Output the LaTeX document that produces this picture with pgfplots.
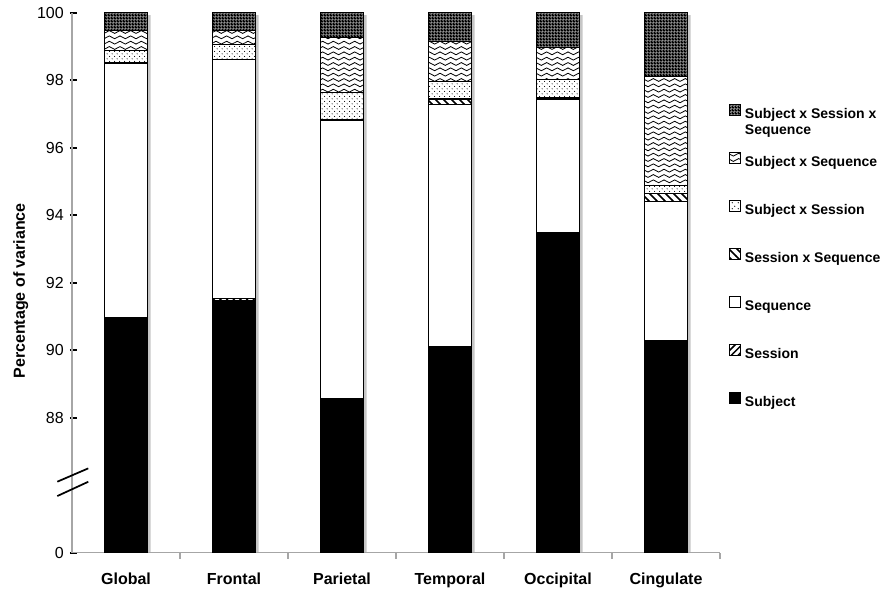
\documentclass[border=0pt]{standalone}
\usepackage{pgfplots}
\usepackage{pgfplotstable}
\pgfplotsset{compat=1.18}
\usepackage{fontspec}
\setmainfont{Liberation Sans}
\usetikzlibrary{patterns}

\pgfdeclarepatternformonly{waves}{\pgfqpoint{-0.5pt}{0pt}}{\pgfqpoint{8.5pt}{4pt}}{\pgfqpoint{8pt}{4pt}}{%
  \pgfsetlinewidth{0.6pt}%
  \pgfpathmoveto{\pgfqpoint{0pt}{2pt}}%
  \pgfpathcurveto{\pgfqpoint{1.33pt}{3.4pt}}{\pgfqpoint{2.67pt}{3.4pt}}{\pgfqpoint{4pt}{2pt}}%
  \pgfpathcurveto{\pgfqpoint{5.33pt}{0.6pt}}{\pgfqpoint{6.67pt}{0.6pt}}{\pgfqpoint{8pt}{2pt}}%
  \pgfusepath{stroke}}
\pgfdeclarepatternformonly{darkdots}{\pgfqpoint{0pt}{0pt}}{\pgfqpoint{2.4pt}{2.4pt}}{\pgfqpoint{2.4pt}{2.4pt}}{%
  \pgfseteorule
  \pgfpathrectangle{\pgfqpoint{0pt}{0pt}}{\pgfqpoint{2.4pt}{2.4pt}}%
  \pgfpathcircle{\pgfqpoint{1.2pt}{1.2pt}}{0.6pt}%
  \pgfusepath{fill}}
\pgfdeclarepatternformonly{sparsedots}{\pgfqpoint{0pt}{0pt}}{\pgfqpoint{4pt}{4pt}}{\pgfqpoint{4pt}{4pt}}{%
  \pgfpathcircle{\pgfqpoint{1pt}{1pt}}{0.45pt}%
  \pgfpathcircle{\pgfqpoint{3pt}{3pt}}{0.45pt}%
  \pgfusepath{fill}}
\pgfdeclarepatternformonly{nehatch}{\pgfqpoint{-1pt}{-1pt}}{\pgfqpoint{6pt}{6pt}}{\pgfqpoint{5pt}{5pt}}{%
  \pgfsetlinewidth{1.1pt}%
  \pgfpathmoveto{\pgfqpoint{-0.1pt}{-0.1pt}}%
  \pgfpathlineto{\pgfqpoint{5.1pt}{5.1pt}}%
  \pgfusepath{stroke}}
\pgfdeclarepatternformonly{nwhatch}{\pgfqpoint{-1pt}{-1pt}}{\pgfqpoint{7pt}{7pt}}{\pgfqpoint{6pt}{6pt}}{%
  \pgfsetlinewidth{1.2pt}%
  \pgfpathmoveto{\pgfqpoint{-0.1pt}{6.1pt}}%
  \pgfpathlineto{\pgfqpoint{6.1pt}{-0.1pt}}%
  \pgfusepath{stroke}}

\pgfplotstableread{
x   sub   ses  seq  sesseq subses subseq all
0.5 90.98 0.00 7.53 0.00   0.36   0.61   0.52
1.5 91.47 0.06 7.09 0.00   0.44   0.42   0.52
2.5 88.56 0.00 8.24 0.03   0.81   1.63   0.73
3.5 90.12 0.00 7.16 0.16   0.53   1.17   0.86
4.5 93.44 0.03 3.97 0.03   0.56   0.93   1.04
5.5 90.29 0.00 4.11 0.25   0.23   3.23   1.89
}\datatable

\pgfplotstableread{
x   total
0.5 99.93
1.5 99.93
2.5 99.93
3.5 99.93
4.5 99.93
5.5 99.93
}\shadowtable

\begin{document}
\begin{tikzpicture}
\path[use as bounding box] (-54pt,-35.475pt) rectangle (607.5pt,414.525pt);
% drop shadow of the bars
\begin{axis}[
  at={(0pt,0pt)}, anchor=south west,
  scale only axis, width=486pt, height=405pt,
  xmin=0, xmax=6, ymin=84, ymax=100,
  hide axis, ybar, bar width=32.25pt, bar shift=2.4pt,
]
\addplot[fill=gray!45, draw=none] table[x=x,y=total]{\shadowtable};
\end{axis}
\begin{axis}[
  name=main,
  at={(0pt,0pt)}, anchor=south west,
  scale only axis, width=486pt, height=405pt,
  ybar stacked, bar width=32.25pt,
  xmin=0, xmax=6, ymin=84, ymax=100,
  axis x line*=bottom, axis y line*=left,
  x axis line style={gray!70, line width=0.8pt},
  y axis line style={gray!70, line width=0.8pt},
  tick align=center,
  xtick={0.5,1.5,2.5,3.5,4.5,5.5},
  xticklabels={Global,Frontal,Parietal,Temporal,Occipital,Cingulate},
  major x tick style={draw=none},
  minor xtick={1,2,3,4,5,6},
  minor tick length=4.5pt,
  minor x tick style={gray!70, line width=0.8pt, yshift=-2.25pt},
  major tick length=5.25pt,
  ytick={84,88,90,92,94,96,98,100},
  yticklabels={0,88,90,92,94,96,98,100},
  ytick style={black, line width=1.6pt, xshift=1pt},
  /pgf/number format/assume math mode=true,
  yticklabel style={font=\fontsize{12}{14}\selectfont},
  xticklabel style={font=\bfseries\fontsize{12}{14}\selectfont, yshift=-9pt},
  ylabel={Percentage of variance},
  ylabel style={font=\bfseries\fontsize{12}{14}\selectfont, at={(axis description cs:-0.079,0.485)}, anchor=center},
  legend style={at={(axis description cs:1.0139,0.832)}, anchor=north west, draw=none, fill=none,
    inner sep=0pt, row sep=22.85pt, column sep=3pt,
    font=\bfseries\fontsize{10.5}{12}\selectfont,
    nodes={inner sep=0pt, text height=8pt, text depth=2.5pt}},
  legend cell align=left,
  reverse legend,
  legend image code/.code={\draw[#1, line width=0.5pt] (0pt,-0.5pt) rectangle (8.25pt,7.75pt);},
  every axis plot/.append style={draw=black, line width=0.9pt},
]
\addplot[fill=black] table[x=x,y=sub]{\datatable};
\addlegendentry{Subject}
\addplot[fill=white, postaction={pattern=nehatch}] table[x=x,y=ses]{\datatable};
\addlegendentry{Session}
\addplot[fill=white] table[x=x,y=seq]{\datatable};
\addlegendentry{Sequence}
\addplot[fill=white, postaction={pattern=nwhatch}] table[x=x,y=sesseq]{\datatable};
\addlegendentry{Session x Sequence}
\addplot[fill=white, postaction={pattern=sparsedots}] table[x=x,y=subses]{\datatable};
\addlegendentry{Subject x Session}
\addplot[fill=white, postaction={pattern=waves}] table[x=x,y=subseq]{\datatable};
\addlegendentry{Subject x Sequence}
\addplot[fill=white, postaction={pattern=darkdots}] table[x=x,y=all]{\datatable};
\addlegendentry{\smash{\begin{tabular}[t]{@{}l@{}}Subject x Session x\\[0.5pt]Sequence\end{tabular}}}
\end{axis}
\draw[line width=1.3pt] (-11pt,53.25pt) -- ++(23.2pt,10pt);
\draw[line width=1.3pt] (-11pt,42.5pt) -- ++(23.2pt,10.7pt);
\end{tikzpicture}
\end{document}
